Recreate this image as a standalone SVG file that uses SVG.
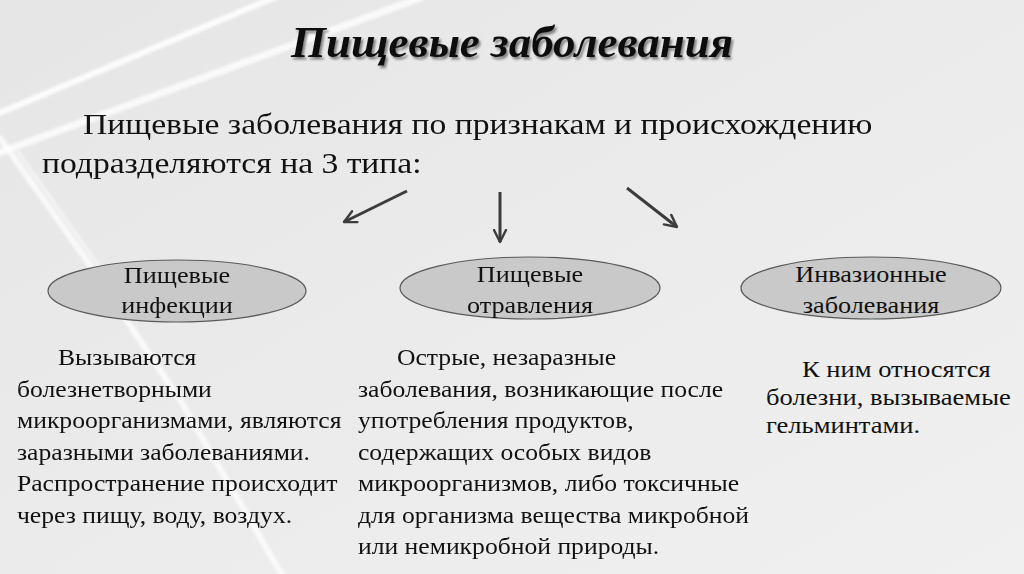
<svg xmlns="http://www.w3.org/2000/svg" width="1024" height="574" viewBox="0 0 1024 574">
<defs>
<linearGradient id="bg" x1="0" y1="0" x2="1" y2="1">
<stop offset="0" stop-color="#e6e6e6"/>
<stop offset="1" stop-color="#f0f0f0"/>
</linearGradient>
<filter id="shadow" x="-5%" y="-20%" width="110%" height="150%">
<feDropShadow dx="2" dy="2.5" stdDeviation="1.2" flood-color="#000" flood-opacity="0.45"/>
</filter>
<filter id="soft"><feGaussianBlur stdDeviation="1.5"/></filter>
<marker id="arr" viewBox="0 0 10 10" refX="9" refY="5" markerWidth="5" markerHeight="5" orient="auto" markerUnits="strokeWidth">
<path d="M1,1 L9,5 L1,9" fill="none" stroke="#3c3c3c" stroke-width="1.6" stroke-linecap="round" stroke-linejoin="round"/>
</marker>
<style>
.t{font-family:"Liberation Serif","Times New Roman",serif;fill:#111}
.title{font-size:45px;font-style:italic;font-weight:bold;text-anchor:middle}
.sub{font-size:29.5px}
.node{font-size:23px;text-anchor:middle}
.body{font-size:22.5px}
.body2{font-size:23.3px}
.ell{fill:#c9c9c9;stroke:#5a5a5a;stroke-width:1.2}
.conn{stroke:#3c3c3c;stroke-width:3;fill:none;marker-end:url(#arr)}
.stripe{stroke:#ffffff;fill:none;stroke-linecap:round;stroke-linejoin:round}
</style>
</defs>
<rect width="1024" height="574" fill="url(#bg)"/>
<g id="background-stripes" filter="url(#soft)">
<line class="stripe" x1="-10" y1="117" x2="280" y2="-5" stroke-width="6" opacity="0.9"/>
<line class="stripe" x1="-10" y1="156" x2="420" y2="-2" stroke-width="7" opacity="0.8"/>
<polyline class="stripe" points="0,138 85,258 180,400 285,580" stroke-width="6" opacity="0.75"/>
<line class="stripe" x1="18" y1="152" x2="100" y2="268" stroke-width="3.5" opacity="0.55"/>
</g>
<g id="title">
<text class="t title" x="512" y="57" filter="url(#shadow)">Пищевые заболевания</text>
</g>
<g id="subtitle" transform="scale(1.14,1)">
<text class="t sub" x="72.8" y="134">Пищевые заболевания по признакам и происхождению</text>
<text class="t sub" x="36.8" y="173">подразделяются на 3 типа:</text>
</g>
<g id="connectors">
<line class="conn" x1="407" y1="191" x2="344" y2="222"/>
<line class="conn" x1="500" y1="192" x2="500" y2="242"/>
<line class="conn" x1="627" y1="188" x2="677" y2="227"/>
</g>
<g id="node-infections">
<ellipse class="ell" cx="177" cy="291" rx="129" ry="31"/>
<g transform="scale(1.14,1)">
<text class="t node" x="155.3" y="283">Пищевые</text>
<text class="t node" x="155.3" y="313">инфекции</text>
</g>
</g>
<g id="node-poisoning">
<ellipse class="ell" cx="530" cy="288" rx="130" ry="31"/>
<g transform="scale(1.14,1)">
<text class="t node" x="464.9" y="282">Пищевые</text>
<text class="t node" x="464.9" y="313">отравления</text>
</g>
</g>
<g id="node-invasive">
<ellipse class="ell" cx="871" cy="288" rx="130" ry="31"/>
<g transform="scale(1.14,1)">
<text class="t node" x="764" y="282">Инвазионные</text>
<text class="t node" x="764" y="313">заболевания</text>
</g>
</g>
<g id="text-infections" transform="scale(1.14,1)">
<text class="t body" x="50.9" y="365">Вызываются</text>
<text class="t body" x="14.9" y="397">болезнетворными</text>
<text class="t body" x="14.9" y="428">микроорганизмами, являются</text>
<text class="t body" x="14.9" y="460">заразными заболеваниями.</text>
<text class="t body" x="14.9" y="491">Распространение происходит</text>
<text class="t body" x="14.9" y="523">через пищу, воду, воздух.</text>
</g>
<g id="text-poisoning" transform="scale(1.14,1)">
<text class="t body" x="348.2" y="365">Острые, незаразные</text>
<text class="t body" x="314" y="397">заболевания, возникающие после</text>
<text class="t body" x="314" y="428">употребления продуктов,</text>
<text class="t body" x="314" y="460">содержащих особых видов</text>
<text class="t body" x="314" y="491">микроорганизмов, либо токсичные</text>
<text class="t body" x="314" y="523">для организма вещества микробной</text>
<text class="t body" x="314" y="554">или немикробной природы.</text>
</g>
<g id="text-invasive" transform="scale(1.14,1)">
<text class="t body2" x="703.5" y="377">К ним относятся</text>
<text class="t body2" x="671.9" y="405">болезни, вызываемые</text>
<text class="t body2" x="671.9" y="433">гельминтами.</text>
</g>
</svg>
